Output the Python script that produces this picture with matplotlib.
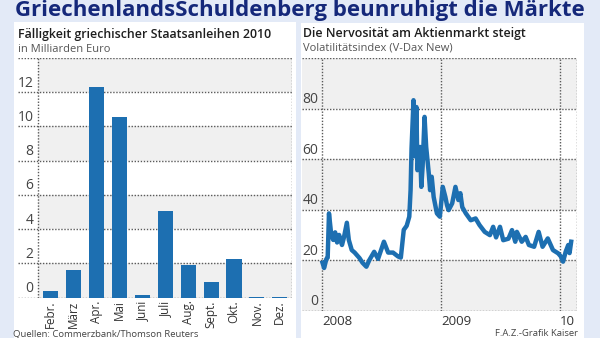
import matplotlib
matplotlib.use("Agg")
import matplotlib.pyplot as plt
from matplotlib.patches import Rectangle
import pandas as pd

# ---------------- data ----------------
months = ["Febr.", "März", "Apr.", "Mai", "Juni", "Juli", "Aug.", "Sept.", "Okt.", "Nov.", "Dez."]
maturities = [0.37, 1.61, 12.29, 10.56, 0.17, 5.08, 1.92, 0.91, 2.25, 0.06, 0.05]
left_yticks = [0, 2, 4, 6, 8, 10, 12]

vdax_dates = [
    "2008-01-02", "2008-01-07", "2008-01-14", "2008-01-18", "2008-01-22", "2008-01-29",
    "2008-02-04", "2008-02-10", "2008-02-16", "2008-02-22", "2008-03-02", "2008-03-08",
    "2008-03-17", "2008-03-23", "2008-04-01", "2008-04-10", "2008-04-25", "2008-05-04",
    "2008-05-16", "2008-05-25", "2008-06-09", "2008-06-21", "2008-07-09", "2008-07-22",
    "2008-08-06", "2008-08-21", "2008-08-30", "2008-09-08", "2008-09-17", "2008-09-25",
    "2008-09-29", "2008-10-02", "2008-10-08", "2008-10-11", "2008-10-14", "2008-10-17",
    "2008-10-20", "2008-10-28", "2008-11-01", "2008-11-05", "2008-11-11", "2008-11-16",
    "2008-11-24", "2008-11-28", "2008-12-03", "2008-12-09", "2008-12-19", "2008-12-28",
    "2009-01-06", "2009-01-14", "2009-01-19", "2009-01-24", "2009-02-04", "2009-02-14",
    "2009-02-23", "2009-03-01", "2009-03-07", "2009-03-18", "2009-04-02", "2009-04-17",
    "2009-04-29", "2009-05-15", "2009-05-31", "2009-06-10", "2009-06-19", "2009-07-01",
    "2009-07-11", "2009-07-27", "2009-08-07", "2009-08-17", "2009-08-22", "2009-09-06",
    "2009-09-18", "2009-09-28", "2009-10-14", "2009-10-28", "2009-11-09", "2009-11-25",
    "2009-12-11", "2009-12-27", "2010-01-04", "2010-01-11", "2010-01-19", "2010-01-27",
    "2010-01-31", "2010-02-05",
]
vdax_values = [
    19.0, 16.9, 20.5, 21.0, 38.5, 30.0,
    28.0, 31.0, 27.0, 30.0, 26.0, 29.0,
    34.8, 28.0, 24.0, 23.0, 20.8, 19.0,
    17.4, 20.0, 23.3, 20.5, 27.3, 23.0,
    23.0, 21.5, 21.0, 32.0, 33.6, 37.2,
    47.7, 64.2, 83.3, 71.0, 61.0, 80.6,
    55.6, 64.8, 49.0, 57.0, 76.7, 64.8,
    54.3, 47.7, 53.0, 45.0, 38.5, 37.2,
    49.0, 45.0, 41.8, 39.8, 42.5, 49.0,
    43.8, 46.5, 41.0, 38.5, 35.8, 36.5,
    33.9, 31.2, 29.9, 33.2, 29.0, 33.2,
    27.9, 28.5, 31.9, 27.3, 31.2, 27.3,
    29.2, 26.0, 25.3, 31.2, 25.3, 28.6,
    24.0, 22.7, 21.5, 19.4, 23.3, 26.0,
    22.8, 27.3,
]
right_yticks = [0, 20, 40, 60, 80]
year_ticks = ["2008-01-01", "2009-01-01", "2010-01-01"]
year_labels = ["2008", "2009", "10"]

title = "GriechenlandsSchuldenberg beunruhigt die Märkte"
left_title = "Fälligkeit griechischer Staatsanleihen 2010"
left_sub = "in Milliarden Euro"
right_title = "Die Nervosität am Aktienmarkt steigt"
right_sub = "Volatilitätsindex (V-Dax New)"
src_left = "Quellen: Commerzbank/Thomson Reuters"
src_right = "F.A.Z.-Grafik Kaiser"

# ---------------- style ----------------
W, H = 600, 338
BG = "#e3eaf7"
BLUE = "#1d6fb1"
BAND = "#f0f0f0"
GRID = "#5a5a5a"
FONT = "Open Sans"
plt.rcParams["font.family"] = [FONT, "DejaVu Sans"]

fig = plt.figure(figsize=(W / 100, H / 100), dpi=100, facecolor=BG)


def px_rect(x0, y0, x1, y1):
    return [x0 / W, 1 - y1 / H, (x1 - x0) / W, (y1 - y0) / H]


# white panels (drawn behind the axes)
for (x0, y0, x1, y1) in [(14, 22, 296, 345), (301, 23, 584, 345)]:
    fig.patches.append(Rectangle((x0 / W, 1 - y1 / H), (x1 - x0) / W, (y1 - y0) / H,
                                 transform=fig.transFigure, facecolor="white",
                                 edgecolor="none", zorder=-10))

# main title
fig.text(15 / W, 1 - 16 / H, title, fontsize=16.0, fontweight="bold", color="#15287a",
         ha="left", va="baseline")

# panel titles
fig.text(18 / W, 1 - 38 / H, left_title, fontsize=8.9, fontweight="semibold", color="#1e1e1e",
         ha="left", va="baseline")
fig.text(18 / W, 1 - 52 / H, left_sub, fontsize=8, color="#555555", ha="left", va="baseline")
fig.text(303 / W, 1 - 37 / H, right_title, fontsize=8.9, fontweight="semibold", color="#1e1e1e",
         ha="left", va="baseline")
fig.text(303 / W, 1 - 51 / H, right_sub, fontsize=8, color="#555555", ha="left", va="baseline")

# footers
fig.text(13 / W, 1 - 338 / H, src_left, fontsize=6.8, color="#444444", ha="left", va="bottom")
fig.text(578 / W, 1 - 338 / H, src_right, fontsize=6.8, color="#444444", ha="right", va="bottom")

dotted = dict(color=GRID, linewidth=1.0, linestyle=(0, (1, 1.2)), snap=True)

# ---------------- left: bar chart ----------------
axL = fig.add_axes(px_rect(18, 58, 291.5, 297.7))
axL.set_facecolor("none")
step = 22.9
x_left = (18 - 50.8) / step
x_right = (291.5 - 50.8) / step
axL.set_xlim(x_left, x_right)
axL.set_ylim(0, 14)
x_axisline = (37.7 - 50.8) / step
band_xmin = (x_axisline - x_left) / (x_right - x_left)
for lo in range(0, 14, 4):
    axL.axhspan(lo, lo + 2, xmin=band_xmin, xmax=1, color=BAND, zorder=0, linewidth=0)
for v in left_yticks + [14]:
    axL.axhline(v, zorder=1, **dotted)
axL.axvline(x_axisline, zorder=1, **dotted)
axL.axvline(x_right, zorder=1, **dotted)
axL.bar(range(len(months)), maturities, width=0.66, color=BLUE, zorder=2)
for v in left_yticks:
    axL.annotate(str(v), xy=((33.5 - 18) / (291.5 - 18), v), xycoords=axL.get_yaxis_transform(),
                 xytext=(0, 1.2), textcoords="offset points", ha="right", va="bottom",
                 fontsize=10, color="#444444")
axL.set_xticks(range(len(months)))
axL.set_xticklabels(months, rotation=90, fontsize=8.4, color="#333333")
axL.tick_params(axis="x", length=0, pad=2)
axL.set_yticks([])
for s in axL.spines.values():
    s.set_visible(False)

# ---------------- right: line chart ----------------
axR = fig.add_axes(px_rect(302, 58, 576.7, 310.7))
axR.set_facecolor("none")
d0 = pd.Timestamp("2007-10-31")
d1 = pd.Timestamp("2010-02-22")
axR.set_xlim(d0, d1)
axR.set_ylim(0, 100)
for lo in range(0, 100, 40):
    axR.axhspan(lo, lo + 20, color=BAND, zorder=0, linewidth=0)
for v in right_yticks + [100]:
    axR.axhline(v, zorder=1, **dotted)
for d in year_ticks:
    axR.axvline(pd.Timestamp(d), zorder=1, **dotted)
axR.axvline(d1, zorder=1, **dotted)
axR.plot(pd.to_datetime(vdax_dates), vdax_values, color=BLUE, linewidth=3.2,
         solid_joinstyle="round", zorder=3)
for v in right_yticks:
    axR.annotate(str(v), xy=((318.5 - 302) / (576.7 - 302), v), xycoords=axR.get_yaxis_transform(),
                 xytext=(0, 1.0), textcoords="offset points", ha="right", va="bottom",
                 fontsize=10, color="#444444")
axR.set_xticks(pd.to_datetime(year_ticks))
axR.set_xticklabels(year_labels, fontsize=9.5, color="#333333", ha="left")
axR.tick_params(axis="x", length=0, pad=3)
axR.set_yticks([])
for s in axR.spines.values():
    s.set_visible(False)

fig.savefig("out.png", dpi=100, facecolor=BG)
